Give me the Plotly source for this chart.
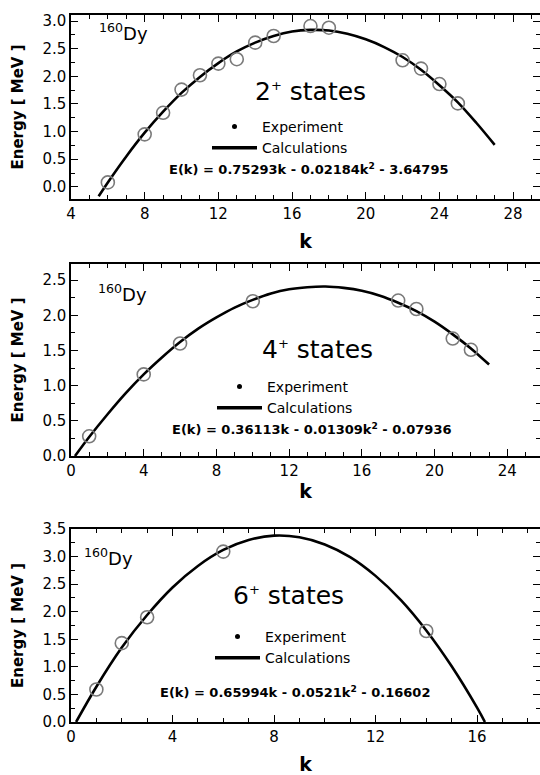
import plotly.graph_objects as go

W, H = 540, 775
FONT = "DejaVu Sans"

# ---------------- data ----------------
# 2+ states
k2_exp = [6, 8, 9, 10, 11, 12, 13, 14, 15, 17, 18, 22, 23, 24, 25]
e2_exp = [0.08, 0.95, 1.34, 1.76, 2.02, 2.23, 2.31, 2.61, 2.73, 2.91, 2.88, 2.29, 2.14, 1.86, 1.51]
k2_calc = [5.5, 6, 7, 8, 9, 10, 11, 12, 13, 14, 15, 16, 17, 18, 19, 20, 21, 22, 23, 24, 25, 26, 27]
e2_calc = [-0.17, 0.08, 0.55, 0.98, 1.36, 1.70, 1.99, 2.24, 2.45, 2.61, 2.73, 2.81, 2.84, 2.83,
           2.77, 2.67, 2.53, 2.35, 2.12, 1.84, 1.53, 1.16, 0.76]

# 4+ states
k4_exp = [1, 4, 6, 10, 18, 19, 21, 22]
e4_exp = [0.28, 1.16, 1.60, 2.20, 2.21, 2.09, 1.67, 1.51]
k4_calc = [0.22, 1, 2, 3, 4, 5, 6, 7, 8, 9, 10, 11, 12, 13, 14, 15, 16, 17, 18, 19, 20, 21, 22, 23]
e4_calc = [0.0, 0.27, 0.59, 0.89, 1.16, 1.40, 1.62, 1.81, 1.97, 2.11, 2.22, 2.31, 2.37, 2.40,
           2.41, 2.39, 2.35, 2.28, 2.18, 2.06, 1.91, 1.73, 1.53, 1.30]

# 6+ states
k6_exp = [1, 2, 3, 6, 14]
e6_exp = [0.59, 1.43, 1.90, 3.09, 1.65]
k6_calc = [0.2, 1, 2, 3, 4, 5, 6, 7, 8, 9, 10, 11, 12, 13, 14, 15, 16, 16.31]
e6_calc = [0.0, 0.64, 1.35, 1.94, 2.44, 2.83, 3.12, 3.30, 3.38, 3.35, 3.22, 2.99, 2.65, 2.21,
           1.66, 1.01, 0.26, 0.0]

SUP = "<sup><span style='font-size:13px'>+</span></sup>"
state_labels = ["2" + SUP + " states", "4" + SUP + " states", "6" + SUP + " states"]
formulas = [
    "E(k) = 0.75293k - 0.02184k<sup>2</sup> - 3.64795",
    "E(k) = 0.36113k - 0.01309k<sup>2</sup> - 0.07936",
    "E(k) = 0.65994k - 0.0521k<sup>2</sup> - 0.16602",
]
nucleus = "<sup>160</sup>Dy"
x_title = "k"
y_title = "Energy [ MeV ]"

# ---------------- layout helpers (pixel -> paper) ----------------
def px(x):
    return x / W

def py(y):
    return 1 - y / H

panels = [
    dict(k=k2_exp, e=e2_exp, kc=k2_calc, ec=e2_calc, top=15, bot=199,
         xr=[4, 29.46], yr=[-0.22, 3.11], dy_xy=(97, 32), st_xy=(310, 92), fm_xy=(309, 169),
         leg_xy=(265, 127), kstand=13),
    dict(k=k4_exp, e=e4_exp, kc=k4_calc, ec=e4_calc, top=264, bot=456,
         xr=[0, 25.8], yr=[0, 2.73], dy_xy=(96, 293), st_xy=(317, 349), fm_xy=(312, 429),
         leg_xy=(270, 387), kstand=6),
    dict(k=k6_exp, e=e6_exp, kc=k6_calc, ec=e6_calc, top=529, bot=722,
         xr=[0, 18.48], yr=[0, 3.5], dy_xy=(82, 557), st_xy=(288, 595), fm_xy=(295, 692),
         leg_xy=(268, 637), kstand=15),
]

fig = go.Figure()
annotations = []
X0 = 71

for i, p in enumerate(panels):
    n = i + 1
    xa = "x" if n == 1 else f"x{n}"
    ya = "y" if n == 1 else f"y{n}"
    leg = "legend" if n == 1 else f"legend{n}"

    fig.add_trace(go.Scatter(
        x=p["kc"], y=p["ec"], mode="lines", line=dict(color="black", width=2.6, shape="spline"),
        xaxis=xa, yaxis=ya, showlegend=False, hoverinfo="skip"))
    fig.add_trace(go.Scatter(
        x=p["k"], y=p["e"], mode="markers",
        marker=dict(symbol="circle-open", size=13, color="#7a7a7a", line=dict(width=1.6)),
        xaxis=xa, yaxis=ya, showlegend=False))
    # legend entries
    fig.add_trace(go.Scatter(
        x=[None], y=[None], mode="markers", name="Experiment",
        marker=dict(symbol="circle", size=5, color="black"),
        xaxis=xa, yaxis=ya, legend=leg))
    fig.add_trace(go.Scatter(
        x=[None], y=[None], mode="lines", name="Calculations",
        line=dict(color="black", width=3.5),
        xaxis=xa, yaxis=ya, legend=leg))

    dom_y = [py(p["bot"]), py(p["top"])]
    axis_common = dict(
        showline=True, linecolor="black", linewidth=1.5, mirror="ticks",
        ticks="inside", ticklen=7, tickwidth=1.3, tickcolor="black",
        showgrid=False, zeroline=False, automargin=False,
        tickfont=dict(family=FONT, size=15, color="black"),
    )
    fig.update_layout(**{
        ("xaxis" if n == 1 else f"xaxis{n}"): dict(
            axis_common, domain=[px(X0), 1.0], anchor=ya, range=p["xr"],
            tick0=0, dtick=4,
            minor=dict(dtick=1, ticklen=4, tickwidth=1.2, tickcolor="black", ticks="inside"),
            title=dict(text=x_title, font=dict(family=FONT, size=19, color="black", weight="bold"),
                       standoff=p["kstand"]),
        ),
        ("yaxis" if n == 1 else f"yaxis{n}"): dict(
            axis_common, domain=dom_y, anchor=xa, range=p["yr"],
            tick0=0, dtick=0.5, tickformat=".1f",
            minor=dict(dtick=0.25, ticklen=4, tickwidth=1.2, tickcolor="black", ticks="inside"),
            title=dict(text=y_title, font=dict(family=FONT, size=15, color="black", weight="bold"),
                       standoff=15),
        ),
        leg: dict(
            x=px(p["leg_xy"][0] - 58), y=py(p["leg_xy"][1] - 16), xanchor="left", yanchor="top",
            bgcolor="rgba(0,0,0,0)", borderwidth=0, tracegroupgap=0, itemwidth=45,
            font=dict(family=FONT, size=14, color="black"),
        ),
    })

    annotations.append(dict(
        text=nucleus, x=px(p["dy_xy"][0]), y=py(p["dy_xy"][1]), xref="paper", yref="paper",
        xanchor="left", yanchor="middle", showarrow=False,
        font=dict(family=FONT, size=18, color="black")))
    annotations.append(dict(
        text=state_labels[i], x=px(p["st_xy"][0]), y=py(p["st_xy"][1]), xref="paper", yref="paper",
        xanchor="center", yanchor="middle", showarrow=False,
        font=dict(family=FONT, size=25, color="black")))
    annotations.append(dict(
        text=formulas[i], x=px(p["fm_xy"][0]), y=py(p["fm_xy"][1]), xref="paper", yref="paper",
        xanchor="center", yanchor="middle", showarrow=False,
        font=dict(family=FONT, size=13, color="black", weight="bold")))

fig.update_layout(
    width=W, height=H,
    margin=dict(l=0, r=0, t=0, b=0, autoexpand=False),
    paper_bgcolor="white", plot_bgcolor="white",
    annotations=annotations,
    font=dict(family=FONT, color="black"),
)

fig.write_html("out.html")
